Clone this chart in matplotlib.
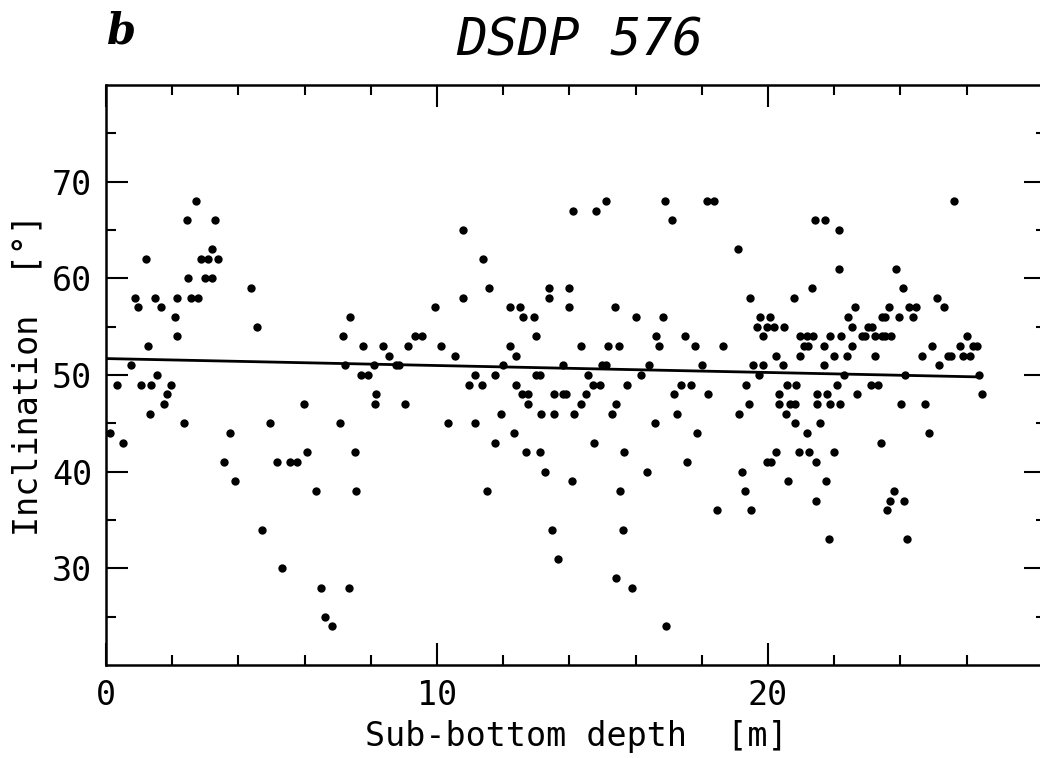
import matplotlib
matplotlib.use("Agg")
import matplotlib.pyplot as plt
from matplotlib.ticker import FixedLocator, NullFormatter

# ---- data ----
depth = [
    0.12, 0.33, 0.52, 0.76, 0.88, 0.98, 1.05, 1.21, 1.26, 1.33, 1.36, 1.48, 1.55, 1.66, 1.75,
    1.84, 1.95, 2.07, 2.16, 2.16, 2.36, 2.46, 2.49, 2.58, 2.71, 2.77, 2.88, 2.99, 3.08, 3.19,
    3.19, 3.29, 3.38, 3.55, 3.74, 3.91, 4.38, 4.57, 4.71, 4.96, 5.16, 5.32, 5.57, 5.77, 5.99,
    6.06, 6.34, 6.51, 6.62, 6.82, 7.08, 7.17, 7.22, 7.33, 7.37, 7.51, 7.55, 7.69, 7.77, 7.92,
    8.10, 8.14, 8.16, 8.36, 8.56, 8.76, 8.86, 9.03, 9.13, 9.34, 9.55, 9.95, 10.12,
    10.34, 10.54, 10.78, 10.80, 10.96, 11.14, 11.15, 11.36, 11.39, 11.52, 11.58, 11.75, 11.76,
    11.94, 11.98, 12.20, 12.20, 12.33, 12.38, 12.38, 12.52, 12.56, 12.59, 12.68, 12.76, 12.76,
    12.93, 12.98, 12.99, 13.11, 13.12, 13.14, 13.27, 13.38, 13.38, 13.47, 13.54, 13.54, 13.65,
    13.80, 13.80, 13.90, 14.00, 14.00, 14.09, 14.11, 14.15, 14.34, 14.36, 14.50, 14.55, 14.72,
    14.73, 14.80, 14.93, 15.00, 15.11, 15.12, 15.18, 15.30, 15.39, 15.40, 15.42, 15.49, 15.54,
    15.62, 15.64, 15.73, 15.90, 16.00, 16.17, 16.35, 16.41, 16.59, 16.62, 16.72, 16.83, 16.88,
    16.92, 17.09, 17.15, 17.25, 17.37, 17.49, 17.55, 17.68, 17.80, 17.87, 18.00, 18.15, 18.19,
    18.36, 18.46, 18.63, 19.08, 19.11, 19.21, 19.31, 19.34, 19.44, 19.47, 19.50, 19.56, 19.67,
    19.72, 19.77, 19.84, 19.85, 19.96, 19.98, 20.06, 20.10, 20.17, 20.24, 20.25, 20.34, 20.34,
    20.46, 20.47, 20.54, 20.56, 20.61, 20.67, 20.78, 20.82, 20.83, 20.86, 20.95, 20.97, 20.97,
    21.08, 21.17, 21.17, 21.20, 21.25, 21.33, 21.37, 21.43, 21.44, 21.45, 21.47, 21.47, 21.56,
    21.69, 21.70, 21.73, 21.75, 21.77, 21.84, 21.86, 21.88, 22.00, 22.00, 22.10, 22.15, 22.15,
    22.17, 22.20, 22.30, 22.40, 22.43, 22.53, 22.54, 22.64, 22.70, 22.84, 22.94, 23.03, 23.11,
    23.13, 23.22, 23.23, 23.32, 23.40, 23.43, 23.44, 23.53, 23.54, 23.59, 23.66, 23.69, 23.73,
    23.80, 23.88, 23.96, 24.03, 24.07, 24.12, 24.14, 24.21, 24.27, 24.37, 24.47, 24.66, 24.75,
    24.87, 24.97, 25.11, 25.18, 25.31, 25.43, 25.53, 25.63, 25.80, 25.88, 26.01, 26.10, 26.18,
    26.31, 26.39, 26.47,
]
inclination = [
    44, 49, 43, 51, 58, 57, 49, 62, 53, 46, 49, 58, 50, 57, 47,
    48, 49, 56, 58, 54, 45, 66, 60, 58, 68, 58, 62, 60, 62, 63,
    60, 66, 62, 41, 44, 39, 59, 55, 34, 45, 41, 30, 41, 41, 47,
    42, 38, 28, 25, 24, 45, 54, 51, 28, 56, 42, 38, 50, 53, 50,
    51, 47, 48, 53, 52, 51, 51, 47, 53, 54, 54, 57, 53,
    45, 52, 58, 65, 49, 45, 50, 49, 62, 38, 59, 43, 50,
    46, 51, 57, 53, 44, 52, 49, 57, 48, 56, 42, 48, 47,
    56, 54, 50, 50, 42, 46, 40, 59, 58, 34, 48, 46, 31,
    51, 48, 48, 59, 57, 39, 67, 46, 53, 47, 48, 50, 49,
    43, 67, 49, 51, 68, 51, 53, 46, 57, 29, 47, 53, 38,
    34, 42, 49, 28, 56, 50, 40, 51, 45, 54, 53, 56, 68,
    24, 66, 48, 46, 49, 54, 41, 49, 53, 44, 51, 68, 48,
    68, 36, 53, 63, 46, 40, 38, 49, 47, 58, 36, 51, 55,
    50, 56, 51, 54, 55, 41, 56, 41, 55, 42, 52, 48, 47,
    51, 55, 46, 49, 39, 47, 58, 47, 45, 49, 42, 54, 52,
    53, 54, 44, 53, 42, 59, 54, 66, 37, 41, 48, 47, 45,
    51, 53, 66, 39, 48, 33, 47, 54, 52, 42, 49, 65, 61,
    47, 54, 50, 52, 56, 53, 55, 57, 48, 54, 54, 55, 49,
    55, 52, 54, 49, 43, 54, 56, 54, 56, 36, 57, 37, 54,
    38, 61, 56, 47, 59, 37, 50, 33, 57, 56, 57, 52, 47,
    44, 53, 58, 51, 57, 52, 52, 68, 53, 52, 54, 52, 53,
    53, 50, 48,
]

# trend line endpoints
fit_depth = [0.0, 26.4]
fit_incl = [51.7, 49.8]

x_major = [0, 10, 20]
x_minor = [2, 4, 6, 8, 12, 14, 16, 18, 22, 24, 26]
y_major = [30, 40, 50, 60, 70]
y_minor = [25, 35, 45, 55, 65, 75]

title = "DSDP 576"
panel = "b"
xlabel = "Sub-bottom depth  [m]"
ylabel = "Inclination  [°]"

# ---- figure ----
W, H = 1040, 758
fig = plt.figure(figsize=(W / 100, H / 100), dpi=100)
left, right, top, bottom = 106, 1046, 85, 665
ax = fig.add_axes([left / W, 1 - bottom / H, (right - left) / W, (bottom - top) / H])

mono = "DejaVu Sans Mono"

ax.plot(depth, inclination, "o", ms=6.0, color="black", mec="none", zorder=3)
ax.plot(fit_depth, fit_incl, color="black", lw=2.0, zorder=2, solid_capstyle="butt")

ax.set_xlim(0, 28.4)
ax.set_ylim(20, 80)

ax.xaxis.set_major_locator(FixedLocator(x_major))
ax.xaxis.set_minor_locator(FixedLocator(x_minor))
ax.yaxis.set_major_locator(FixedLocator(y_major))
ax.yaxis.set_minor_locator(FixedLocator(y_minor))
ax.xaxis.set_minor_formatter(NullFormatter())
ax.yaxis.set_minor_formatter(NullFormatter())

ax.tick_params(which="both", direction="in", top=True, right=True, width=1.5, color="black")
ax.tick_params(which="major", length=15.5, pad=10, labelsize=24)
ax.tick_params(which="minor", length=7.5)
for lab in ax.get_xticklabels() + ax.get_yticklabels():
    lab.set_fontfamily(mono)

for s in ax.spines.values():
    s.set_linewidth(1.8)

ax.set_xlabel(xlabel, fontsize=24, family=mono, labelpad=6)
ax.set_ylabel(ylabel, fontsize=24, family=mono, labelpad=5)

fig.text(580 / W, 1 - 42 / H, title, fontsize=37, family=mono, style="oblique",
         ha="center", va="center")
fig.text(122 / W, 1 - 32 / H, panel, fontsize=30, family="DejaVu Serif", style="italic",
         fontweight="bold", ha="center", va="center")

fig.savefig("out.png", dpi=100)
